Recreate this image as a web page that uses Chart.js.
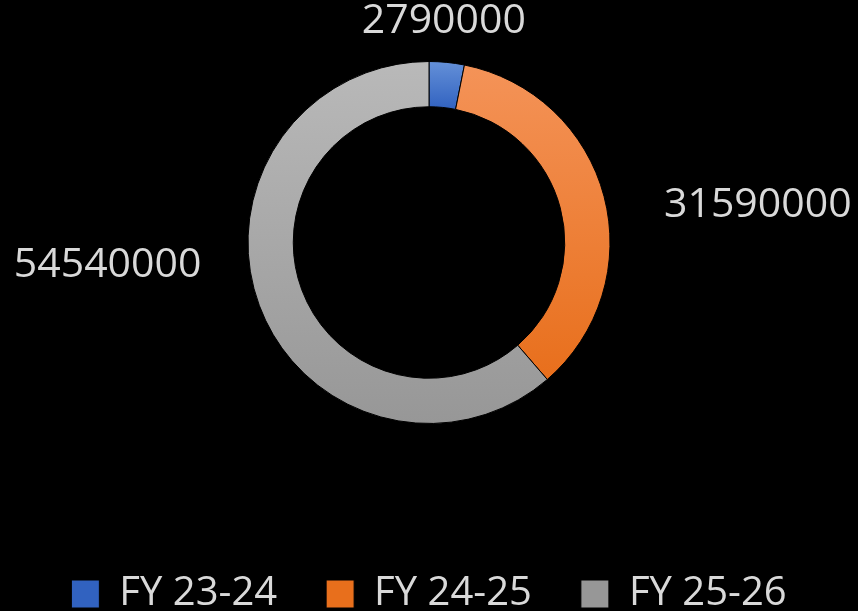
<!DOCTYPE html>
<html>
<head>
<meta charset="utf-8">
<script src="https://cdn.jsdelivr.net/npm/chart.js@4"></script>
<style>
  html, body { margin: 0; padding: 0; background: #000; }
  #wrap { width: 858px; height: 611px; }
</style>
</head>
<body>
<div id="wrap"><canvas id="fyChart"></canvas></div>
<script>
const categories = ['FY 23-24', 'FY 24-25', 'FY 25-26'];
const amounts = [2790000, 31590000, 54540000];

// light (top) / dark (bottom) shade of each slice
const lightColors = ['#6490d8', '#f49358', '#b9b9b9'];
const darkColors = ['#3162c0', '#e86f1c', '#979797'];
// label nudges from the outer edge of each slice, and text alignment
const labelOffsets = [[-3, -41], [60, 9], [-58, -40]];
const labelAlign = ['center', 'left', 'right'];
const RING = 181;

// vertical extent of a slice, worked out from the data angles
function sliceBounds(chart, i) {
    const area = chart.chartArea;
    const cy = (area.top + area.bottom) / 2;
    const outer = RING;
    const inner = outer * 0.75;
    const total = amounts.reduce((a, b) => a + b, 0);
    let start = amounts.slice(0, i).reduce((a, b) => a + b, 0) / total * Math.PI * 2 - Math.PI / 2;
    let end = start + amounts[i] / total * Math.PI * 2;
    let top = Infinity, bottom = -Infinity;
    for (let k = 0; k <= 60; k++) {
        const a = start + (end - start) * k / 60;
        [inner, outer].forEach(r => {
            const y = cy + Math.sin(a) * r;
            top = Math.min(top, y);
            bottom = Math.max(bottom, y);
        });
    }
    return { top, bottom };
}

function sliceFill(ctx) {
    const chart = ctx.chart;
    const i = ctx.dataIndex;
    if (!chart.chartArea || i === undefined) return darkColors[i || 0];
    const b = sliceBounds(chart, i);
    const g = chart.ctx.createLinearGradient(0, b.top, 0, b.bottom);
    g.addColorStop(0, lightColors[i]);
    g.addColorStop(1, darkColors[i]);
    return g;
}

const sliceLabels = {
    id: 'sliceLabels',
    afterDatasetsDraw(chart) {
        const c = chart.ctx;
        const meta = chart.getDatasetMeta(0);
        c.save();
        c.font = '41px "Open Sans"';
        c.fillStyle = '#d9d9d9';
        c.textBaseline = 'middle';
        meta.data.forEach((arc, i) => {
            const p = arc.getProps(['x', 'y', 'startAngle', 'endAngle', 'outerRadius'], true);
            const mid = (p.startAngle + p.endAngle) / 2;
            const x = p.x + Math.cos(mid) * p.outerRadius + labelOffsets[i][0];
            const y = p.y + Math.sin(mid) * p.outerRadius + labelOffsets[i][1];
            c.textAlign = labelAlign[i];
            c.fillText(String(amounts[i]), x, y);
        });
        c.restore();
    }
};

const chart = new Chart(document.getElementById('fyChart'), {
    type: 'doughnut',
    data: {
        labels: categories,
        datasets: [{
            data: amounts,
            backgroundColor: sliceFill,
            borderColor: '#000',
            borderWidth: 1
        }]
    },
    options: {
        responsive: true,
        maintainAspectRatio: false,
        animation: false,
        cutout: '75%',
        radius: RING,
        layout: { padding: { top: 0, bottom: -13 } },
        plugins: {
            tooltip: { enabled: false },
            // empty bottom title: just a spacer between ring and legend
            title: {
                display: true,
                text: ' ',
                position: 'bottom',
                weight: 500,
                font: { size: 20 },
                padding: { top: 8, bottom: 8 }
            },
            legend: {
                position: 'bottom',
                labels: {
                    color: '#d9d9d9',
                    font: { family: '"Open Sans"', size: 40 },
                    boxWidth: 28,
                    boxHeight: 28,
                    padding: 49
                }
            }
        }
    },
    plugins: [sliceLabels]
});
</script>
</body>
</html>
